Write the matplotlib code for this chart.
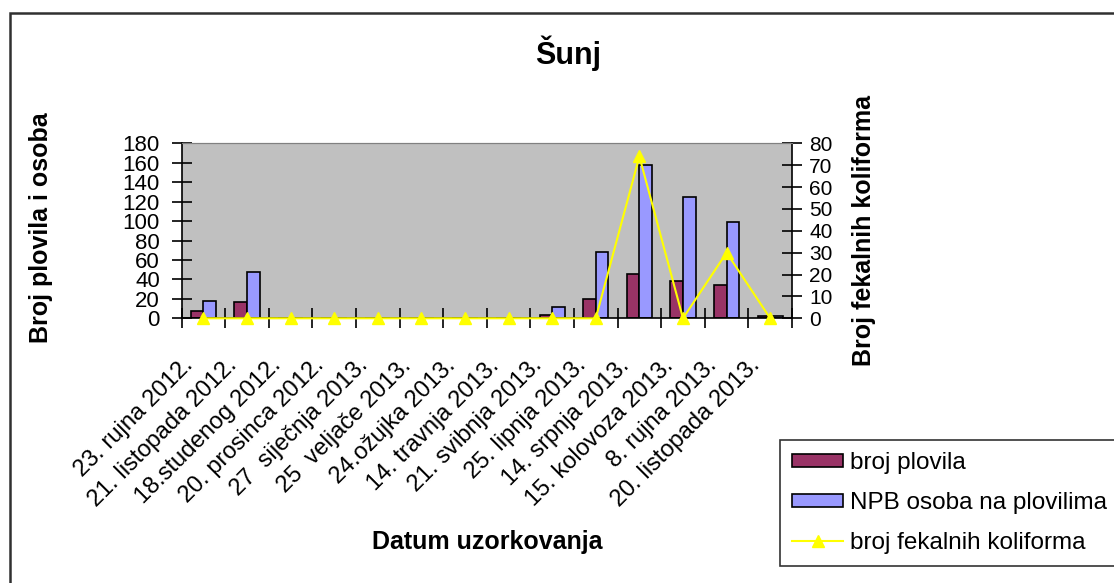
import matplotlib
matplotlib.use("Agg")
import matplotlib.pyplot as plt
import matplotlib.transforms as mtransforms
from matplotlib.patches import Rectangle
import numpy as np

plt.rcParams["font.family"] = ["Liberation Sans", "DejaVu Sans"]

datumi = ["23. rujna 2012.", "21. listopada 2012.", "18.studenog 2012.",
          "20. prosinca 2012.", "27  siječnja 2013.", "25  veljače 2013.",
          "24.ožujka 2013.", "14. travnja 2013.", "21. svibnja 2013.",
          "25. lipnja 2013.", "14. srpnja 2013.", "15. kolovoza 2013.",
          "8. rujna 2013.", "20. listopada 2013."]
broj_plovila = [7, 17, 0, 0, 0, 0, 0, 0, 3, 20, 46, 38, 34, 2]
npb_osoba = [18, 48, 0, 0, 0, 0, 0, 0, 12, 68, 158, 125, 99, 2]
fekalni = [0, 0, 0, 0, 0, 0, 0, 0, 0, 0, 74, 0, 30, 0]

W, H = 1114, 583
fig = plt.figure(figsize=(W / 100, H / 100), dpi=100)
fig.patch.set_facecolor("white")

# plot area in pixels: x 181.5..792, y 143.3..318.3
ax = fig.add_axes([181.5 / W, 1 - 318.3 / H, 610.5 / W, 175 / H])
ax.set_facecolor("#C0C0C0")

x = np.arange(len(datumi)) + 0.5
w = 0.29
b1 = ax.bar(x - w / 2, broj_plovila, w, color="#993366", edgecolor="black",
            linewidth=1.2, zorder=2)
b2 = ax.bar(x + w / 2, npb_osoba, w, color="#9999FF", edgecolor="black",
            linewidth=1.2, zorder=2)
ax.set_xlim(0, len(datumi))
ax.set_ylim(0, 180)
ax.set_yticks(range(0, 181, 20))
ax.set_xticks(range(len(datumi) + 1))
ax.set_xticklabels([])
ax.set_xticks(x, minor=True)
ax.set_xticklabels(datumi, minor=True, rotation=45, ha="right", va="top",
                   rotation_mode="anchor", fontsize=17)
ax.tick_params(axis="x", which="minor", length=0, pad=26)
ax.tick_params(axis="x", which="major", direction="inout", length=15, width=1.2)
ax.tick_params(axis="y", direction="inout", length=15, width=1.2, pad=8,
               labelsize=16)
shift = mtransforms.ScaledTranslation(-21 / 100, 0, fig.dpi_scale_trans)
for lbl in ax.get_xticklabels(minor=True):
    lbl.set_transform(lbl.get_transform() + shift)

for s in ["left", "bottom"]:
    ax.spines[s].set_linewidth(1.2)
ax.spines["top"].set_color("#808080")
ax.spines["right"].set_visible(False)

ax2 = ax.twinx()
ln, = ax2.plot(x, fekalni, color="#FFFF00", lw=1.5, marker="^", markersize=9,
               markeredgecolor="#FFFF00", clip_on=False, zorder=3)
ax2.set_ylim(0, 80)
ax2.set_yticks(range(0, 81, 10))
ax2.tick_params(axis="y", direction="inout", length=15, width=1.2, pad=5,
                labelsize=15)
ax2.spines["left"].set_visible(False)
ax2.spines["bottom"].set_visible(False)
ax2.spines["top"].set_color("#808080")
ax2.spines["right"].set_linewidth(1.2)

ax.set_title("Šunj", fontsize=22, fontweight="bold", x=(568 - 181.5) / 610.5,
             y=(318.3 - 62) / 175, va="center")
ax.set_ylabel("Broj plovila i osoba", fontsize=18, fontweight="bold")
ax.yaxis.set_label_coords((53 - 181.5) / 610.5, (318.3 - 228) / 175)
ax2.set_ylabel("Broj fekalnih koliforma", fontsize=18, fontweight="bold")
ax2.yaxis.set_label_coords((852 - 181.5) / 610.5, (318.3 - 230) / 175)
ax.set_xlabel("Datum uzorkovanja", fontsize=18, fontweight="bold")
ax.xaxis.set_label_coords((487 - 181.5) / 610.5, (318.3 - 530) / 175)

leg = fig.legend([b1, b2, ln],
                 ["broj plovila", "NPB osoba na plovilima", "broj fekalnih koliforma"],
                 loc="upper left", bbox_to_anchor=(780 / W, 1 - 440 / H),
                 fontsize=17.5, frameon=True, fancybox=False, edgecolor="black",
                 borderaxespad=0, handlelength=2.1, handleheight=0.5,
                 handletextpad=0.3, labelspacing=0.74, borderpad=0.5)
leg.get_frame().set_linewidth(1.2)

fig.add_artist(Rectangle((10 / W, -0.1), 1.2, 1.1 - 13 / H,
                         transform=fig.transFigure, fill=False,
                         edgecolor="#303030", lw=1.8, zorder=0))

fig.savefig("out.png", dpi=100)
